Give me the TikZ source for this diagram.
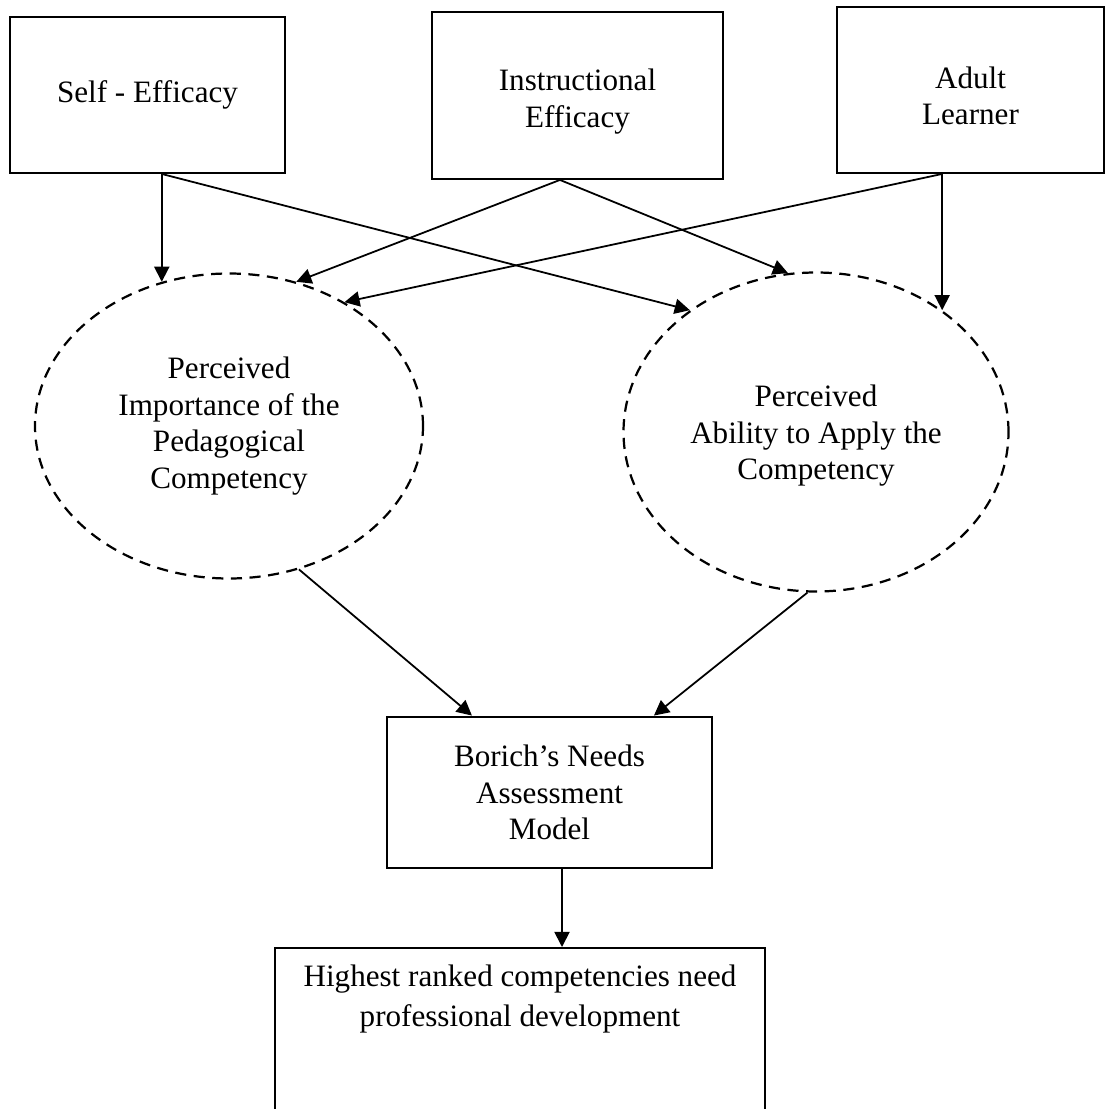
\documentclass[tikz,border=0pt]{standalone}
\usepackage{fontspec}
\setmainfont{Liberation Serif}
\usetikzlibrary{shapes.geometric,arrows.meta}

\begin{document}
\begin{tikzpicture}[x=0.45pt, y=-0.45pt,
    >={Triangle[length=6.8pt,width=6.8pt]},
    every node/.style={font=\fontsize{14}{16.4}\selectfont, align=center},
    factor/.style={draw, line width=0.85pt, inner sep=0pt},
    percept/.style={draw, ellipse, dash pattern=on 5pt off 3.4pt, line width=1pt, inner sep=0pt}]
    \useasboundingbox (0,0) rectangle (1107,1109);
    \clip (0,0) rectangle (1107,1109);
    \node[factor, minimum width=123.75pt, minimum height=70.2pt] (self) at (147.5,95) {Self - Efficacy};
    \node[factor, minimum width=130.95pt, minimum height=75.15pt] (instr) at (577.5,95.5) {\rule{0pt}{15pt}Instructional\\Efficacy};
    \node[factor, minimum width=120.15pt, minimum height=74.7pt] (adult) at (970.5,90) {\rule{0pt}{15pt}Adult\\Learner};
    \node[percept, minimum width=174.6pt, minimum height=137.25pt] (imp) at (229,426) {Perceived\\Importance of the\\Pedagogical\\Competency};
    \node[percept, minimum width=173.25pt, minimum height=143.55pt] (abil) at (816,432) {\rule{0pt}{13pt}Perceived\\Ability to Apply the\\Competency};
    \node[factor, line width=1.3pt, minimum width=146.25pt, minimum height=67.95pt] (borich) at (549.5,792.5) {Borich’s Needs\\Assessment\\Model};
    \node[factor, anchor=north, minimum width=220.5pt, inner sep=7.5pt, text depth=90pt] (high) at (520,947) {Highest ranked competencies need\\[1.6pt]professional development};
    \path[->, line width=0.8pt]
        (self.south -| imp.115) edge (imp.115)
        (self.south -| imp.115) edge (abil.136)
        ([xshift=-7.9pt]instr.south) edge (imp.65)
        ([xshift=-7.9pt]instr.south) edge (abil.100)
        (adult.south -| abil.44) edge (imp.47)
        (adult.south -| abil.44) edge (abil.44)
        (imp.-64) edge ([xshift=-34.9pt]borich.north)
        (abil.-93) edge ([xshift=47pt]borich.north)
        ([xshift=18.9pt]high.north |- borich.south) edge ([xshift=18.9pt]high.north);
\end{tikzpicture}
\end{document}
